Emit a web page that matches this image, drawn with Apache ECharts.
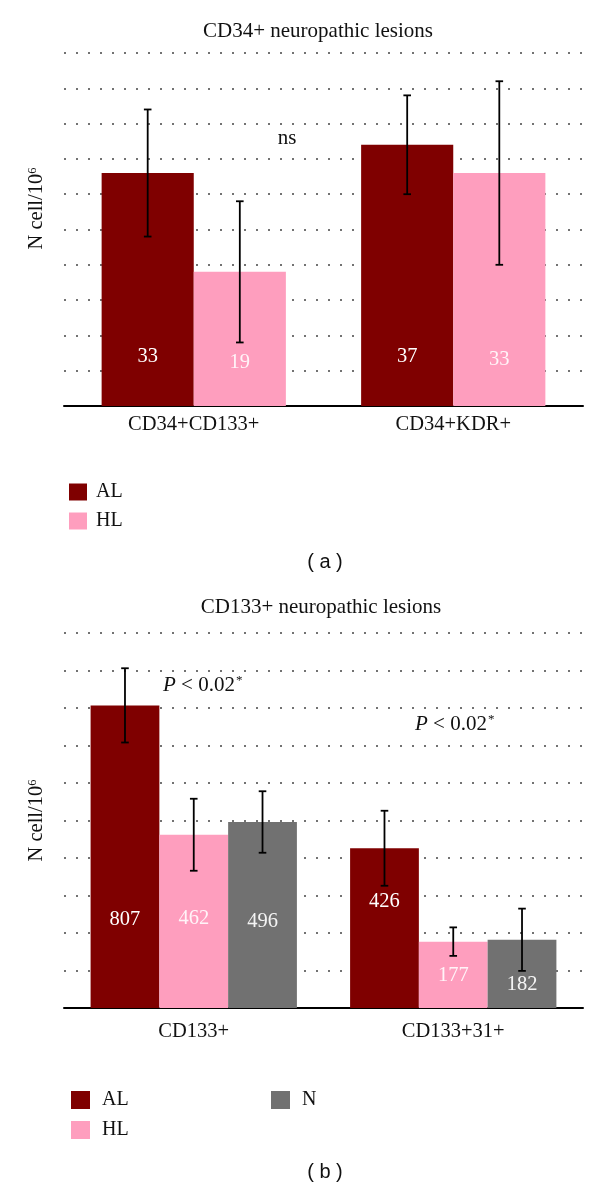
<!DOCTYPE html>
<html><head><meta charset="utf-8">
<script src="https://cdn.jsdelivr.net/npm/echarts@6/dist/echarts.min.js"></script>
<style>html,body{margin:0;padding:0;background:#fff}#c{width:600px;height:1188px}</style>
</head><body><div id="c"></div>
<script>
// ---- Panel (a) data ----
const catsA = ['CD34+CD133+', 'CD34+KDR+'];
const alA = [33, 37];
const hlA = [19, 33];
const alErrA = [9, 7];
const hlErrA = [10, 13];
// ---- Panel (b) data ----
const catsB = ['CD133+', 'CD133+31+'];
const alB = [807, 426];
const hlB = [462, 177];
const nB = [496, 182];
const alErrB = [99, 100];
const hlErrB = [96, 38];
const nErrB = [82, 83];
// axis scales
const yMaxA = 50, yStepA = 5;
const yMaxB = 1000, yStepB = 100;

// ---- styles ----
const SERIF = '"Liberation Serif", "DejaVu Serif", serif';
const SANS = '"Liberation Sans", Arial, sans-serif';
const C_AL = '#7f0000', C_HL = '#fe9ebe', C_N = '#717171';
const TXT = '#111';
const gapA = 0.29, gapB = 0.205;
// label lift above bar base (px), styling only
const liftA = { AL: [49, 49], HL: [43, 46] };
const liftB = { AL: [88, 106], HL: [89, 32], N: [86, 23] };

function bar(name, xi, vals, color, gap, lifts, labelColor) {
  return {
    type: 'bar', name, xAxisIndex: xi, yAxisIndex: xi,
    barGap: 0, barCategoryGap: (gap * 100) + '%',
    itemStyle: { color },
    label: { show: true, position: 'insideBottom', color: labelColor,
             fontFamily: SERIF, fontSize: 20.5 },
    data: vals.map((v, i) => ({ value: v, label: { distance: lifts[i] - 10 } })),
    z: 2
  };
}
function err(name, xi, vals, errs, k, n, gap) {
  return {
    type: 'custom', name: name + ' err', xAxisIndex: xi, yAxisIndex: xi,
    encode: { x: 0, y: [1, 2] }, silent: true, z: 10,
    data: vals.map((v, i) => [i, v - errs[i], v + errs[i]]),
    renderItem(params, api) {
      const i = api.value(0);
      const lo = api.coord([i, api.value(1)]);
      const hi = api.coord([i, api.value(2)]);
      const band = api.size([1, 0])[0];
      const group = band * (1 - gap);
      const bw = group / n;
      const x = lo[0] - group / 2 + bw * (k + 0.5);
      const cap = 3.8;
      const st = { stroke: '#000', lineWidth: 1.8 };
      return { type: 'group', children: [
        { type: 'line', shape: { x1: x, y1: hi[1], x2: x, y2: lo[1] }, style: st },
        { type: 'line', shape: { x1: x - cap, y1: hi[1], x2: x + cap, y2: hi[1] }, style: st },
        { type: 'line', shape: { x1: x - cap, y1: lo[1], x2: x + cap, y2: lo[1] }, style: st }
      ]};
    }
  };
}

const xAxisBase = (data, margin) => ({
  type: 'category', data,
  axisTick: { show: false },
  axisLine: { lineStyle: { color: '#000', width: 2 } },
  axisLabel: { fontFamily: SERIF, fontSize: 20.5, color: TXT, margin },
  splitLine: { show: false }
});
const yAxisBase = (max, step, padLeft) => ({
  type: 'value', min: 0, max, interval: step,
  axisLabel: { show: false }, axisTick: { show: false }, axisLine: { show: false },
  splitLine: { show: true, lineStyle: { type: [2, 10], color: '#444', width: 1.5 } },
  name: 'N cell/10{sup|6}', nameLocation: 'middle', nameGap: 17,
  nameTextStyle: { fontFamily: SERIF, fontSize: 20.5, color: TXT, padding: [0, 0, 0, padLeft],
    rich: { sup: { fontFamily: SERIF, fontSize: 12.5, verticalAlign: 'top', color: TXT, padding: [0, 0, 8, 0] } } }
});
const legendBase = (data, left, top, w, h, gap, textPad) => ({
  data, orient: 'vertical', left, top, itemWidth: w, itemHeight: h, itemGap: gap,
  icon: 'rect', selectedMode: false,
  textStyle: { fontFamily: SERIF, fontSize: 20, color: TXT, padding: [0, 0, 0, textPad], lineHeight: h }
});
const titleStyle = { fontFamily: SERIF, fontSize: 21, fontWeight: 'normal', color: TXT };

const chart = echarts.init(document.getElementById('c'), null, { renderer: 'canvas' });
chart.setOption({
  animation: false,
  backgroundColor: '#fff',
  title: [
    { text: 'CD34+ neuropathic lesions', left: 318, top: 21, textAlign: 'center', padding: 0, textStyle: titleStyle },
    { text: 'CD133+ neuropathic lesions', left: 321, top: 597, textAlign: 'center', padding: 0, textStyle: titleStyle }
  ],
  grid: [
    { left: 64, right: 17, top: 53, height: 353, containLabel: false },
    { left: 64, right: 17, top: 633, height: 375, containLabel: false }
  ],
  xAxis: [ xAxisBase(catsA, 8), Object.assign(xAxisBase(catsB, 13), { gridIndex: 1 }) ],
  yAxis: [ yAxisBase(yMaxA, yStepA, 42), Object.assign(yAxisBase(yMaxB, yStepB, 0), { gridIndex: 1 }) ],
  legend: [
    legendBase(['AL', 'HL'], 64, 477, 18, 17, 9, 4),
    legendBase(['AL', 'HL'], 66, 1085, 19, 18, 10, 7),
    legendBase(['N'], 266, 1085, 19, 18, 10, 7)
  ],
  series: [
    bar('AL', 0, alA, C_AL, gapA, liftA.AL, '#ffffff'),
    bar('HL', 0, hlA, C_HL, gapA, liftA.HL, '#fff4f8'),
    err('AL', 0, alA, alErrA, 0, 2, gapA),
    err('HL', 0, hlA, hlErrA, 1, 2, gapA),
    bar('AL', 1, alB, C_AL, gapB, liftB.AL, '#ffffff'),
    bar('HL', 1, hlB, C_HL, gapB, liftB.HL, '#fff4f8'),
    bar('N', 1, nB, C_N, gapB, liftB.N, '#f4f4f4'),
    err('AL', 1, alB, alErrB, 0, 3, gapB),
    err('HL', 1, hlB, hlErrB, 1, 3, gapB),
    err('N', 1, nB, nErrB, 2, 3, gapB)
  ],
  graphic: [
    { type: 'text', x: 287, y: 138, style: { text: 'ns', fill: TXT, font: '21px ' + SERIF, align: 'center', verticalAlign: 'middle' } },
    { type: 'text', x: 163, y: 685, style: { text: '{i|P} < 0.02{s|*}', fill: TXT, font: '21px ' + SERIF, align: 'left', verticalAlign: 'middle',
        rich: { i: { fontFamily: SERIF, fontSize: 21, fontStyle: 'italic', fill: TXT }, s: { fontFamily: SERIF, fontSize: 13, verticalAlign: 'top', fill: TXT, padding: [0, 0, 8, 1] } } } },
    { type: 'text', x: 415, y: 724, style: { text: '{i|P} < 0.02{s|*}', fill: TXT, font: '21px ' + SERIF, align: 'left', verticalAlign: 'middle',
        rich: { i: { fontFamily: SERIF, fontSize: 21, fontStyle: 'italic', fill: TXT }, s: { fontFamily: SERIF, fontSize: 13, verticalAlign: 'top', fill: TXT, padding: [0, 0, 8, 1] } } } },
    { type: 'text', x: 325, y: 562, style: { text: '( a )', fill: '#111', font: '20px ' + SANS, align: 'center', verticalAlign: 'middle' } },
    { type: 'text', x: 325, y: 1172, style: { text: '( b )', fill: '#111', font: '20px ' + SANS, align: 'center', verticalAlign: 'middle' } }
  ]
});
</script></body></html>
